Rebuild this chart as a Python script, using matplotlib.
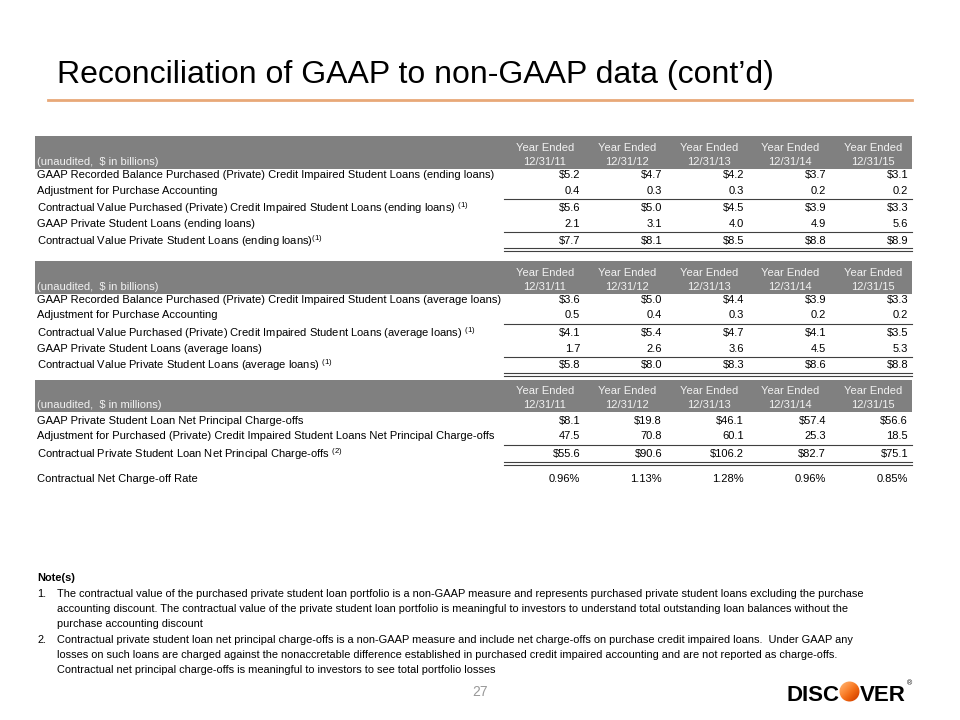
import matplotlib.pyplot as plt
import matplotlib.patches as mpatches
import numpy as np

plt.rcParams['mathtext.fontset'] = 'custom'
plt.rcParams['mathtext.rm'] = 'Liberation Sans'

SANS = ['Liberation Sans', 'DejaVu Sans']

years = ['12/31/11', '12/31/12', '12/31/13', '12/31/14', '12/31/15']

# ending loans, $ in billions
end_labels = [
    'GAAP Recorded Balance Purchased (Private) Credit Impaired Student Loans (ending loans)',
    'Adjustment for Purchase Accounting',
    r'Contractual Value Purchased (Private) Credit Impaired Student Loans (ending loans) $^{\mathrm{(1)}}$',
    'GAAP Private Student Loans (ending loans)',
    r'Contractual Value Private Student Loans (ending loans)$^{\mathrm{(1)}}$',
]
end_pci_gaap = [5.2, 4.7, 4.2, 3.7, 3.1]
end_adjust = [0.4, 0.3, 0.3, 0.2, 0.2]
end_pci_contract = [5.6, 5.0, 4.5, 3.9, 3.3]
end_gaap_private = [2.1, 3.1, 4.0, 4.9, 5.6]
end_contract_private = [7.7, 8.1, 8.5, 8.8, 8.9]

# average loans, $ in billions
avg_labels = [
    'GAAP Recorded Balance Purchased (Private) Credit Impaired Student Loans (average loans)',
    'Adjustment for Purchase Accounting',
    r'Contractual Value Purchased (Private) Credit Impaired Student Loans (average loans) $^{\mathrm{(1)}}$',
    'GAAP Private Student Loans (average loans)',
    r'Contractual Value Private Student Loans (average loans) $^{\mathrm{(1)}}$',
]
avg_pci_gaap = [3.6, 5.0, 4.4, 3.9, 3.3]
avg_adjust = [0.5, 0.4, 0.3, 0.2, 0.2]
avg_pci_contract = [4.1, 5.4, 4.7, 4.1, 3.5]
avg_gaap_private = [1.7, 2.6, 3.6, 4.5, 5.3]
avg_contract_private = [5.8, 8.0, 8.3, 8.6, 8.8]

# net principal charge-offs, $ in millions
nco_labels = [
    'GAAP Private Student Loan Net Principal Charge-offs',
    'Adjustment for Purchased (Private) Credit Impaired Student Loans Net Principal Charge-offs',
    r'Contractual Private Student Loan Net Principal Charge-offs $^{\mathrm{(2)}}$',
    'Contractual Net Charge-off Rate',
]
nco_gaap = [8.1, 19.8, 46.1, 57.4, 56.6]
nco_adjust = [47.5, 70.8, 60.1, 25.3, 18.5]
nco_contract = [55.6, 90.6, 106.2, 82.7, 75.1]
nco_rate = [0.96, 1.13, 1.28, 0.96, 0.85]

notes = [
    ('1.', ['The contractual value of the purchased private student loan portfolio is a non-GAAP measure and represents purchased private student loans excluding the purchase',
            'accounting discount. The contractual value of the private student loan portfolio is meaningful to investors to understand total outstanding loan balances without the',
            'purchase accounting discount']),
    ('2.', ['Contractual private student loan net principal charge-offs is a non-GAAP measure and include net charge-offs on purchase credit impaired loans.  Under GAAP any',
            'losses on such loans are charged against the nonaccretable difference established in purchased credit impaired accounting and are not reported as charge-offs.',
            'Contractual net principal charge-offs is meaningful to investors to see total portfolio losses']),
]

# layout (pixels)
col_mid = [545, 627, 709, 790, 873]
col_right = [580, 662, 744, 826, 908]
FS = 8


def fmt(v, kind):
    if kind == '$':
        return '$%.1f' % v
    if kind == '%':
        return '%.2f%%' % v
    return '%.1f' % v


def header(ax, top, unit, h=33):
    ax.add_patch(mpatches.Rectangle((35, top), 877, h, color='#808080', lw=0))
    ax.text(37, top + h - 7, unit, color='#f2f2f2', fontsize=FS, va='center', family=SANS)
    for x, y in zip(col_mid, years):
        ax.text(x, top + h - 21, 'Year Ended', color='#f2f2f2', fontsize=FS, ha='center', va='center', family=SANS)
        ax.text(x, top + h - 7, y, color='#f2f2f2', fontsize=FS, ha='center', va='center', family=SANS)


def rows(ax, ys, labels, series, kinds):
    for y, lab, vals, k in zip(ys, labels, series, kinds):
        ax.text(37, y, lab, fontsize=FS, va='center', family=SANS)
        for x, v in zip(col_right, vals):
            ax.text(x, y, fmt(v, k), fontsize=FS, ha='right', va='center', family=SANS)


def rule(ax, y, double=False):
    ax.plot([504, 912], [y, y], color='#404040', lw=0.8)
    if double:
        ax.plot([504, 912], [y + 2.5, y + 2.5], color='#404040', lw=0.8)


fig = plt.figure(figsize=(9.6, 7.2), dpi=100)
ax = fig.add_axes([0, 0, 1, 1])
ax.set_xlim(0, 960)
ax.set_ylim(720, 0)
ax.axis('off')

# title
ax.text(57, 83, 'Reconciliation of GAAP to non-GAAP data (cont\u2019d)', fontsize=23, va='baseline', family=SANS)
ax.plot([48, 912], [100, 100], color='#e8a878', lw=2)

# table 1
header(ax, 136, '(unaudited,  $ in billions)')
rows(ax, [175, 191, 208, 224, 241], end_labels,
     [end_pci_gaap, end_adjust, end_pci_contract, end_gaap_private, end_contract_private],
     ['$', '', '$', '', '$'])
rule(ax, 199)
rule(ax, 232)
rule(ax, 248, True)

# table 2
header(ax, 261, '(unaudited,  $ in billions)')
rows(ax, [300, 315, 333, 349, 365], avg_labels,
     [avg_pci_gaap, avg_adjust, avg_pci_contract, avg_gaap_private, avg_contract_private],
     ['$', '', '$', '', '$'])
rule(ax, 324)
rule(ax, 357)
rule(ax, 373, True)

# table 3
header(ax, 380, '(unaudited,  $ in millions)', h=32)
rows(ax, [421, 436, 454, 479], nco_labels,
     [nco_gaap, nco_adjust, nco_contract, nco_rate],
     ['$', '', '$', '%'])
rule(ax, 445)
rule(ax, 462, True)

# notes
ax.text(37, 578, 'Note(s)', fontsize=7.9, fontweight='bold', va='center', family=SANS)
y = 594
for num, lines in notes:
    ax.text(37, y, num, fontsize=7.9, va='center', family=SANS)
    for line in lines:
        ax.text(57, y, line, fontsize=7.9, va='center', family=SANS)
        y += 15.2

ax.text(480, 692, '27', fontsize=10, color='#999999', ha='center', va='center', family=SANS)

# logo
ax.text(839, 701, 'DISC', fontsize=16, fontweight='bold', ha='right', va='baseline', family=SANS)
ax.text(860, 701, 'VER', fontsize=16, fontweight='bold', ha='left', va='baseline', family=SANS)
ax.text(907, 684, '\u00ae', fontsize=5, ha='left', va='center', family=SANS)
gx, gy = np.meshgrid(np.linspace(0, 1, 60), np.linspace(0, 1, 60))
grad = (gx + gy) / 2
im = ax.imshow(grad, cmap='Oranges', vmin=-0.6, vmax=1.3, extent=[839, 860, 702, 681], zorder=3)
circ = mpatches.Circle((849.5, 691.5), 10, transform=ax.transData, fc='none', ec='none')
ax.add_patch(circ)
im.set_clip_path(circ)
ax.set_xlim(0, 960)
ax.set_ylim(720, 0)

fig.savefig('out.png', dpi=100)
